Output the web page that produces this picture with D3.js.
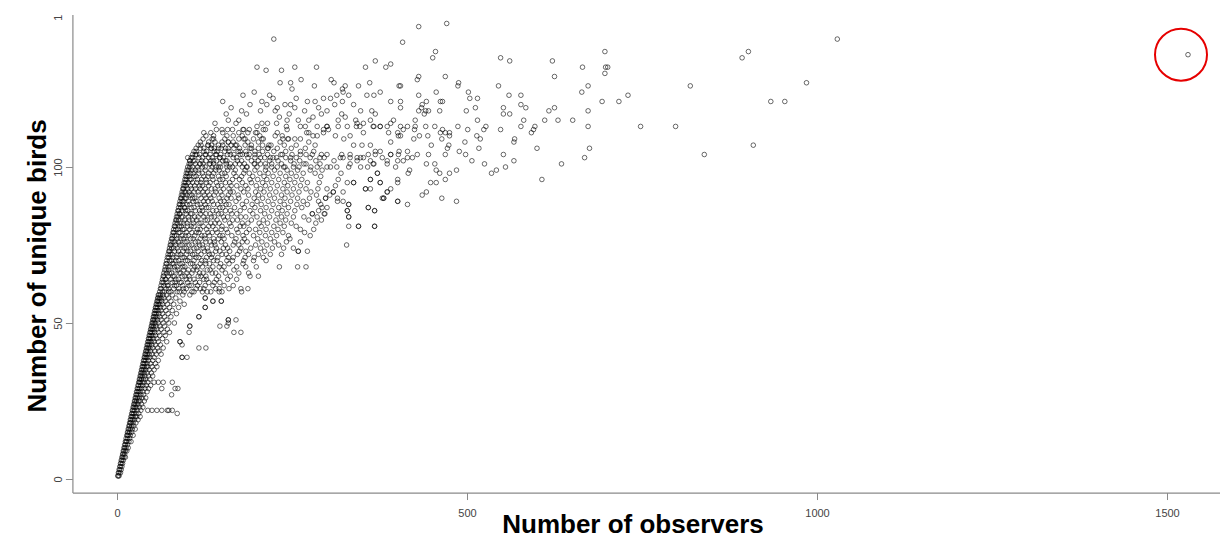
<!DOCTYPE html>
<html>
<head>
<meta charset="utf-8">
<script src="https://cdn.jsdelivr.net/npm/d3@7"></script>
<style>
  body { margin: 0; background: #fff; }
  svg { display: block; }
</style>
</head>
<body>
<div id="chart"></div>
<script>
// ── Data: observers (x) vs unique birds (y) ──
// rows: [birds, [observers...]] along the steep lower band
const bandRows = [
  [1,[1,2,3]],[2,[2,3,5]],[3,[3,4,6]],[4,[4,5,7]],[5,[5,6,8]],[6,[6,7,9]],
  [7,[7,8,10,12]],[8,[8,9,11]],[9,[9,10,12,14]],[10,[10,11,13,16]],[11,[11,12,15]],
  [12,[12,13,14,17,20]],[13,[13,15,18]],[14,[14,15,16,19,23]],[15,[15,16,18,21]],
  [16,[16,17,19,22,26]],[17,[17,18,21,24]],[18,[18,19,20,23,27]],[19,[19,20,22,25,30]],
  [20,[20,21,23,26,28,33]],[21,[21,22,24,27,31]],[22,[22,23,25,29,34,44,50,57,64,74,79]],
  [23,[23,24,26,28,32,37]],[24,[24,25,27,30,35]],[25,[25,26,28,31,33,39]],
  [26,[26,27,29,32,36,41]],[27,[27,28,30,34,38,78]],[28,[28,29,31,33,37,43]],
  [29,[29,30,32,35,40,45]],[30,[30,31,34,37,42,48]],[31,[31,32,33,36,39,44,53,66,79]],
  [32,[32,33,35,38,41,47]],[33,[33,34,36,40,45,51]],[34,[34,35,37,39,43,49]],
  [35,[35,36,38,41,46,53]],[36,[36,37,39,42,44,50,57]],[37,[37,38,40,43,48,55]],
  [38,[38,39,41,45,51,59]],[39,[39,40,42,44,47,53,93]],[40,[40,41,43,46,50,56,63]],
  [41,[41,42,44,48,54,60]],[42,[42,43,45,47,51,58,66,117]],[43,[43,44,46,50,55,62]],
  [44,[44,45,47,49,53,59,71,90]],[45,[45,46,48,52,57,65]],[46,[46,47,49,51,55,61,69]],
  [47,[47,48,50,54,59,67,75,167]],[48,[48,49,51,53,57,63,72]],[49,[49,50,52,56,61,68,104]],
  [50,[50,51,53,55,59,66,74,82]],[51,[51,52,54,58,63,71,159]],[52,[52,53,55,57,61,68,77,117]],
  [53,[53,54,56,60,65,73,85]],[54,[54,55,57,59,63,70,79]],[55,[55,56,58,62,67,75,88,126]],
  [56,[56,57,59,61,65,72,81,96]],[57,[57,58,60,64,69,77,90,137,149]],
  [58,[58,59,61,63,67,74,84,126]],[59,[59,60,62,66,71,79,94,104]]
];

// rows: [birds, [observers...]] in the dense core
const coreRows = [
  [60,[61,65,68,74,77,86,89,96,107,110,122,129,134,150,178]],
  [61,[62,63,70,74,81,88,95,99,113,119,124,141,160]],
  [62,[63,67,72,73,82,85,94,103,106,115,126,137,153,166]],
  [63,[64,66,71,79,83,90,92,101,112,118,131,139,147]],
  [64,[65,69,70,77,84,88,99,104,110,124,128,142,158,171]],
  [65,[66,67,73,80,82,93,97,103,116,120,127,145,162]],
  [66,[67,71,75,78,89,91,100,107,118,123,136,141,155,174,188]],
  [67,[68,70,74,83,87,95,102,109,114,129,133,150,167]],
  [68,[69,73,76,82,86,94,97,111,115,122,137,146,153,171,184,199,232]],
  [69,[70,71,79,81,90,93,105,108,119,127,132,148,160,180]],
  [70,[71,75,78,84,88,98,101,110,121,126,138,143,157,165,181,195,213]],
  [71,[72,74,80,85,93,96,104,113,117,128,135,144,159,166,183,196,209]],
  [72,[73,76,79,87,91,99,108,111,120,132,136,150,156,172,188,202,219,235]],
  [73,[74,75,82,88,94,101,105,116,125,130,141,147,161,175,184,211,259]],
  [74,[75,78,81,86,96,99,110,114,123,129,142,152,158,177,191,205,222,238,252]],
  [75,[76,77,84,90,93,103,107,118,122,135,140,155,166,174,198,214,231]],
  [76,[77,80,83,88,97,100,112,116,127,133,139,149,168,179,186,207,225,242,262]],
  [77,[78,79,86,91,95,105,109,119,126,138,145,153,170,182,201,219,247]],
  [78,[79,82,85,93,98,102,111,121,125,132,147,151,164,180,195,212,228,245,276]],
  [79,[80,81,88,90,99,107,113,117,130,136,143,158,173,185,204,221,237,268]],
  [80,[81,84,87,94,96,104,115,119,128,141,149,156,171,189,198,213,230,262,281]],
  [81,[82,83,89,92,101,106,110,123,131,137,150,163,176,181,206,224,239,256,345,368]],
  [82,[83,86,91,95,100,109,117,120,134,140,146,161,179,187,203,215,233,249,284]],
  [83,[84,85,88,97,103,108,114,126,129,143,154,165,172,192,209,227,241,274,292]],
  [84,[85,87,92,94,102,111,116,124,135,139,152,158,177,184,200,218,235,252,267,286,331]],
  [85,[86,89,90,99,105,107,119,127,133,145,149,164,171,194,211,229,243,279,297]],
  [86,[87,88,93,98,101,112,118,122,137,142,155,162,176,190,205,221,236,254,288,329,368]],
  [87,[88,91,96,97,106,110,121,128,131,147,151,168,182,197,213,231,245,264,300,359]],
  [88,[89,90,94,100,104,115,119,126,138,144,156,160,179,193,206,223,239,257,272,291,331]],
  [89,[90,93,95,102,109,113,124,130,136,148,153,170,185,200,216,233,248,266,315,401]],
  [90,[91,92,97,99,108,111,120,127,134,146,157,163,174,196,208,225,240,258,275,298,381]],
  [91,[92,94,100,104,107,117,125,132,139,150,159,173,188,202,218,235,250,285,304]],
  [92,[93,96,98,103,110,116,123,129,141,148,162,166,181,198,210,227,243,260,277,309,386]],
  [93,[94,95,101,106,112,119,126,135,140,152,160,177,187,205,219,237,252,270,287,355]],
  [94,[95,97,99,105,111,118,122,131,144,149,163,171,184,199,212,229,244,262,312]],
  [95,[96,98,102,108,114,120,128,133,142,155,161,179,192,208,221,239,254,272,289,338,376]],
  [96,[97,99,104,106,115,121,127,137,147,151,165,175,190,201,214,231,247,264,316,362]],
  [97,[98,100,103,110,113,124,130,136,145,156,170,178,194,210,223,241,256,291]],
  [98,[99,101,105,109,117,122,131,138,150,154,167,181,189,204,216,233,249,266,283,320,372]],
  [99,[100,102,107,112,116,126,134,141,146,158,169,183,197,212,225,243,258,276,293]],
  [100,[101,104,108,115,122,126,136,141,148,161,165,179,186,200,213,229,240,260,277,305]],
  [101,[103,105,112,119,123,132,138,147,156,162,175,182,196,205,221,235,253,270,290]],
  [102,[104,109,111,121,127,134,142,151,157,172,178,192,202,218,230,248,261,284]],
  [103,[106,108,117,122,131,136,147,152,166,171,187,197,211,223,241,256,276,296]],
  [104,[108,114,118,127,133,142,148,158,167,179,189,203,215,234,250,270,292]],
  [105,[110,113,124,128,139,143,154,160,173,184,197,208,224,241,262,281]],
  [106,[113,119,124,134,139,149,155,167,175,190,202,216,229,249,269]],
  [107,[116,120,130,135,145,151,163,169,183,192,208,220,239,256,283]],
  [108,[119,131,140,159,166,187,202,233,274]],
  [109,[123,136,154,174,183,209,244]],
  [110,[127,138,157,179,204,236,280]],
  [111,[134,151,174,198,229,271]],
  [112,[142,158,181,209,243]]
];

// upper part of the cloud: [observers, birds]
const upperPoints = [
  [224,141],[200,132],[213,131],[235,131],[254,132],[285,132],[248,127],[263,128],[282,126],
  [306,128],[310,127],[322,125],[326,126],[331,123],[323,124],[355,132],[369,134],[391,133],
  [384,132],[361,127],[403,126],[180,123],[196,124],[151,121],[218,123],[223,122],[207,121],
  [205,118],[214,120],[226,118],[229,119],[240,120],[248,120],[254,119],[256,122],[268,118],
  [272,121],[283,121],[295,122],[288,119],[300,118],[305,122],[314,123],[322,121],[311,120],
  [321,117],[348,118],[357,123],[367,123],[376,124],[364,118],[369,117],[362,115],[391,121],
  [405,119],[395,115],[159,115],[170,114],[174,115],[185,117],[150,112],[165,112],[180,112],
  [189,112],[200,113],[207,114],[215,114],[200,111],[212,112],[228,114],[242,113],[243,115],
  [259,115],[274,115],[269,113],[286,113],[300,113],[302,112],[295,111],[326,116],[341,115],
  [342,113],[352,111],[347,113],[367,113],[376,113],[386,113],[405,113],[124,111],[138,109],
  [150,108],[159,108],[171,107],[135,106],[145,106],[159,106],[176,105],[181,109],[187,111],
  [195,109],[207,109],[217,107],[226,110],[237,109],[245,109],[254,109],[262,109],[274,111],
  [286,110],[295,112],[312,110],[324,109],[333,110],[338,107],[350,107],[362,107],[391,108],
  [101,103],[126,104],[138,102],[147,103],[155,102],[162,104],[176,104],[185,104],[197,104],
  [205,103],[219,103],[228,103],[236,104],[248,103],[262,104],[279,104],[290,103],[300,104],
  [310,102],[321,104],[333,104],[348,103],[362,102],[369,105],[379,103],[391,104],[403,105],
  [133,101],[145,100],[157,100],[169,101],[185,100],[197,101],[212,101],[221,100],[238,100],
  [252,100],[267,101],[286,100],[300,100],[314,100],[331,100],[348,100],[367,101],[386,101],
  [398,100],[104,102],[112,104],[118,101],[130,107],[141,104],[166,110],[192,106],[215,106],
  [140,114],[156,117],[163,119],[190,120],[232,116],[246,117],[280,116],[292,117],[338,120],
  [345,126],[250,125],[233,127],[178,118],[262,113],[316,115]
];

// right edge of the cloud: [observers, birds]
const midPoints = [
  [300,113],[316,113],[329,113],[343,114],[352,114],[366,113],[376,113],[391,114],[401,111],
  [388,111],[402,110],[402,104],[391,104],[376,105],[369,104],[359,104],[352,103],[343,103],
  [333,103],[323,103],[319,103],[333,101],[343,102],[358,100],[366,101],[386,102],[401,102],
  [416,98],[372,98],[362,96],[376,95],[401,96],[401,95],[391,93],[386,92],[381,90],[379,90],
  [362,93],[355,93],[338,95],[329,95],[323,92],[315,90],[309,92],[401,89],[359,87],[368,86],
  [323,89],[331,88],[329,86],[331,84],[345,81],[368,81],[331,81],[328,75],[300,93],[298,90],
  [288,89],[293,87],[296,85],[279,85],[259,73],[258,68]
];

// sparse tail to the right: [observers, birds]
const tailPoints = [
  [431,145],[471,146],[408,140],[455,137],[451,135],[548,135],[561,134],[622,134],[625,129],
  [665,132],[697,137],[698,132],[701,132],[697,130],[893,135],[902,137],[1029,141],[819,126],
  [985,127],[934,121],[954,121],[909,107],[839,104],[798,113],[748,113],[730,123],[717,121],
  [693,121],[664,124],[673,126],[673,118],[673,113],[675,106],[668,103],[635,101],[607,96],
  [651,115],[630,115],[625,119],[617,118],[611,115],[597,113],[595,112],[592,111],[600,106],
  [581,115],[584,119],[577,120],[577,123],[560,123],[545,126],[552,119],[552,117],[561,117],
  [577,113],[548,112],[568,109],[567,108],[552,104],[567,102],[555,100],[542,99],[535,98],
  [525,101],[517,106],[519,109],[514,110],[501,112],[497,108],[489,105],[498,104],[507,102],
  [485,99],[485,89],[464,90],[442,92],[436,91],[415,88],[448,95],[456,95],[469,96],[475,98],
  [461,98],[456,99],[454,101],[442,101],[445,104],[429,104],[418,99],[422,103],[415,103],
  [415,105],[409,102],[469,104],[472,106],[474,107],[449,107],[464,109],[462,111],[465,112],
  [469,111],[475,111],[475,110],[444,110],[432,110],[424,109],[425,112],[409,112],[415,113],
  [426,113],[426,115],[441,113],[454,113],[487,113],[499,118],[512,119],[515,115],[527,113],
  [524,112],[461,118],[462,121],[465,121],[456,124],[442,121],[431,123],[436,120],[435,119],
  [441,118],[445,118],[439,117],[431,118],[405,121],[405,126],[429,128],[431,129],[469,129],
  [487,126],[488,127],[502,124],[504,122],[515,122],[405,110]
];

// scattered points below the cloud: [observers, birds]
const strayPoints = [
  [190,65],[177,61],[146,61],[146,60],[137,57],[149,57],[126,58],[126,55],[117,52],[104,49],
  [103,47],[90,44],[93,43],[93,39],[147,49],[159,51],[159,50],[157,49],[170,51],[177,47],
  [127,42],[100,39],[83,29],[86,21],[59,31],[64,29],[72,22],[87,29],[187,61],[202,65],
  [270,68],[272,73]
];

const outlierPoint = [1530, 136];

const xTicks = [0, 500, 1000, 1500];
const yTicks = [0, 50, 100, 150];
const xTitle = "Number of observers";
const yTitle = "Number of unique birds";

// ── Chart ───────────────────────────────────────
const W = 1220, H = 539;
const FONT = "'Liberation Sans', Arial, sans-serif";

const svg = d3.select("#chart").append("svg")
  .attr("width", W).attr("height", H)
  .style("background", "#fff");

// the picture is cropped a little above the plot top
svg.append("defs").append("clipPath").attr("id", "crop")
  .append("rect").attr("x", 0).attr("y", 15).attr("width", W).attr("height", H);

const xScale = d3.scaleLinear().domain([0, 1500]).range([117, 1167]);
const yScale = d3.scaleLinear().domain([0, 150]).range([479, 11]);

// flatten rows into points
const allPoints = [];
bandRows.concat(coreRows).forEach(([b, obs]) => obs.forEach(o => allPoints.push([o, b])));
[upperPoints, midPoints, tailPoints, strayPoints].forEach(arr => arr.forEach(p => allPoints.push(p)));
allPoints.push(outlierPoint);

const frame = svg.append("g").attr("clip-path", "url(#crop)");

// box lines (L shape)
const x0 = xScale(-63), yBottom = yScale(-4.5), yTop = yScale(151.8);
frame.append("line").attr("x1", x0).attr("x2", W).attr("y1", yBottom).attr("y2", yBottom)
  .attr("stroke", "#8a8a8a").attr("stroke-width", 1.2);
frame.append("line").attr("x1", x0).attr("x2", x0).attr("y1", yTop).attr("y2", yBottom)
  .attr("stroke", "#8a8a8a").attr("stroke-width", 1.2);

// X axis
const xAxis = frame.append("g").attr("transform", `translate(0,${yBottom})`)
  .call(d3.axisBottom(xScale).tickValues(xTicks).tickSize(7).tickPadding(9).tickFormat(d3.format("d")));
xAxis.select(".domain").remove();
xAxis.selectAll(".tick line").attr("stroke", "#8a8a8a");
xAxis.selectAll("text").attr("font-family", FONT).attr("font-size", "11px").attr("fill", "#444");

// Y axis (labels parallel to the axis)
const yAxis = frame.append("g").attr("transform", `translate(${x0},0)`)
  .call(d3.axisLeft(yScale).tickValues(yTicks).tickSize(7).tickFormat(d3.format("d")));
yAxis.select(".domain").remove();
yAxis.selectAll(".tick line").attr("stroke", "#8a8a8a");
yAxis.selectAll("text")
  .attr("font-family", FONT).attr("font-size", "11px").attr("fill", "#444")
  .attr("text-anchor", "middle").attr("dy", 0).attr("x", 0).attr("y", 0)
  .attr("transform", "translate(-11,0) rotate(-90)");

// Points
svg.append("g").selectAll("circle").data(allPoints).join("circle")
  .attr("cx", d => xScale(d[0]))
  .attr("cy", d => yScale(d[1]))
  .attr("r", 2.3)
  .attr("fill", "none")
  .attr("stroke", "#000")
  .attr("stroke-opacity", 0.58)
  .attr("stroke-width", 1);

// Highlight ring round the far outlier
svg.append("circle")
  .attr("cx", xScale(outlierPoint[0]) - 7)
  .attr("cy", yScale(outlierPoint[1]))
  .attr("r", 26)
  .attr("fill", "none").attr("stroke", "#e60000").attr("stroke-width", 2);

// Axis titles
svg.append("text").attr("x", 633).attr("y", 533)
  .attr("text-anchor", "middle").attr("font-family", FONT)
  .attr("font-weight", "bold").attr("font-size", "26px").attr("fill", "#000")
  .text(xTitle);
svg.append("text").attr("transform", "translate(46,266) rotate(-90)")
  .attr("text-anchor", "middle").attr("font-family", FONT)
  .attr("font-weight", "bold").attr("font-size", "26px").attr("fill", "#000")
  .text(yTitle);
</script>
</body>
</html>
